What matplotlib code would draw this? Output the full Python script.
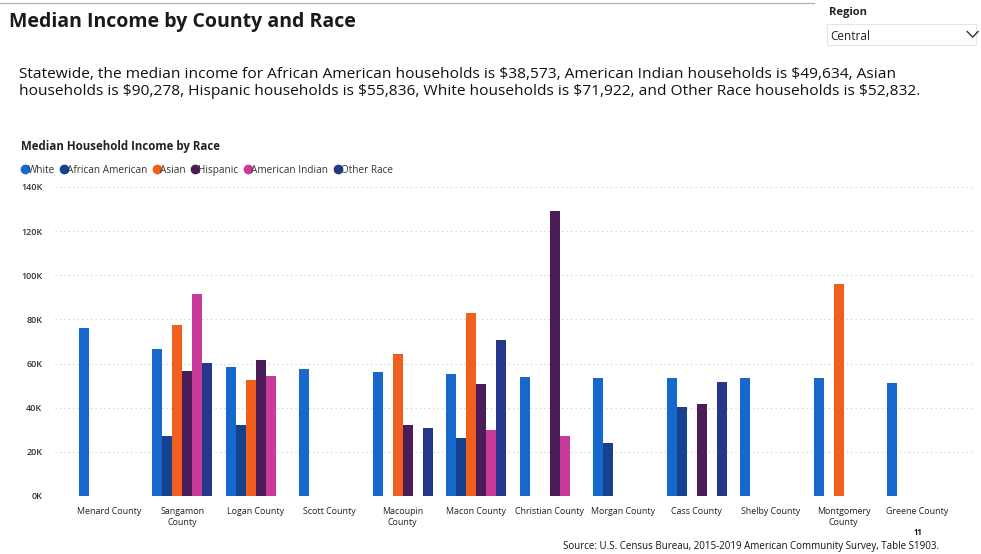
import matplotlib.pyplot as plt
import numpy as np
from matplotlib.lines import Line2D
from matplotlib.patches import FancyBboxPatch
from matplotlib.ticker import FuncFormatter

plt.rcParams['font.family'] = ['Open Sans', 'DejaVu Sans']

counties = ["Menard County", "Sangamon\nCounty", "Logan County", "Scott County",
            "Macoupin\nCounty", "Macon County", "Christian County", "Morgan County",
            "Cass County", "Shelby County", "Montgomery\nCounty", "Greene County"]
races = ["White", "African American", "Asian", "Hispanic", "American Indian", "Other Race"]
colors = ["#1768cc", "#16418f", "#f05f1e", "#4a1d58", "#c93a9b", "#25378a"]

# median income in thousands, nan = no data for that county
white = [76.3, 66.7, 58.3, 57.7, 56.3, 55.4, 53.9, 53.6, 53.6, 53.6, 53.6, 51.0]
african_american = [np.nan, 27.1, 32.0, np.nan, np.nan, 26.3, np.nan, 24.2, 40.3, np.nan, np.nan, np.nan]
asian = [np.nan, 77.6, 52.4, np.nan, 64.3, 83.1, np.nan, np.nan, np.nan, np.nan, 96.2, np.nan]
hispanic = [np.nan, 56.6, 61.7, np.nan, 32.2, 50.7, 129.2, np.nan, 41.8, np.nan, np.nan, np.nan]
american_indian = [np.nan, 91.6, 54.3, np.nan, np.nan, 29.8, 27.0, np.nan, np.nan, np.nan, np.nan, np.nan]
other_race = [np.nan, 60.1, np.nan, np.nan, 30.6, 70.8, np.nan, np.nan, 51.8, np.nan, np.nan, np.nan]
series = [white, african_american, asian, hispanic, american_indian, other_race]

yticks = [0, 20, 40, 60, 80, 100, 120, 140]

fig = plt.figure(figsize=(9.81, 5.54), dpi=100)

# header
fig.add_artist(Line2D([0, 0.83], [0.995, 0.995], color="#b5b5b5", lw=1))
fig.text(0.009, 0.960, "Median Income by County and Race", fontsize=14,
         fontweight="bold", va="center", color="#1a1a1a")
fig.text(0.845, 0.978, "Region", fontsize=8, fontweight="bold", va="center", color="#222")
fig.add_artist(FancyBboxPatch((0.843, 0.918), 0.152, 0.038, boxstyle="square,pad=0",
                              fill=False, ec="#e4e4e4", lw=0.8, transform=fig.transFigure))
fig.text(0.846, 0.935, "Central", fontsize=8.5, va="center", color="#222")
fig.add_artist(Line2D([0.986, 0.9915, 0.997], [0.943, 0.933, 0.943], color="#333", lw=1,
                      transform=fig.transFigure))

fig.text(0.019, 0.866, r"Statewide, the median income for African American households is \$38,573, "
         r"American Indian households is \$49,634, Asian", fontsize=11.15, va="center", color="#111")
fig.text(0.019, 0.834, r"households is \$90,278, Hispanic households is \$55,836, White households "
         r"is \$71,922, and Other Race households is \$52,832.", fontsize=11.15, va="center",
         color="#111")

fig.text(0.021, 0.735, "Median Household Income by Race", fontsize=8.3, fontweight="bold",
         va="center", color="#222")

ax = fig.add_axes([0.056, 0.1047, 0.938, 0.5578])
x = np.arange(len(counties))
w = 0.136
for i, (name, vals, c) in enumerate(zip(races, series, colors)):
    vals = np.array(vals)
    ok = ~np.isnan(vals)
    ax.bar(x[ok] + (i - 2.5) * w, vals[ok], width=w, color=c, label=name, zorder=2)

ax.set_xlim(-0.735, 11.79)
ax.set_ylim(0, 140)
ax.set_yticks(yticks)
ax.yaxis.set_major_formatter(FuncFormatter(lambda v, p: f"{int(v)}K"))
ax.set_xticks(x)
ax.set_xticklabels(counties, fontsize=6.4, color="#222", linespacing=1.3)
ax.tick_params(axis="y", labelsize=6.5, colors="#333", length=0, pad=9)
ax.tick_params(axis="x", length=0, pad=8)
for lbl in ax.get_yticklabels():
    lbl.set_fontweight("semibold")
for s in ax.spines.values():
    s.set_visible(False)
ax.grid(axis="y", color="#c8c8c8", linestyle=(0, (1, 3)), lw=0.8, zorder=0)
ax.set_axisbelow(True)

handles = [Line2D([], [], marker="o", ls="", color=c, markersize=6) for c in colors]
fig.legend(handles, races, loc="center left", bbox_to_anchor=(0.014, 0.693), ncol=6,
           frameon=False, fontsize=7.2, handletextpad=-0.3, columnspacing=0.35,
           handlelength=1.2, borderpad=0, labelcolor="#333")

fig.text(0.574, 0.014, "Source: U.S. Census Bureau, 2015-2019 American Community Survey, "
         "Table S1903.", fontsize=7, va="center", color="#111")
fig.text(0.936, 0.038, "11", fontsize=5.5, fontweight="bold", ha="center", va="center", color="#111")

fig.savefig("out.png", dpi=100)
